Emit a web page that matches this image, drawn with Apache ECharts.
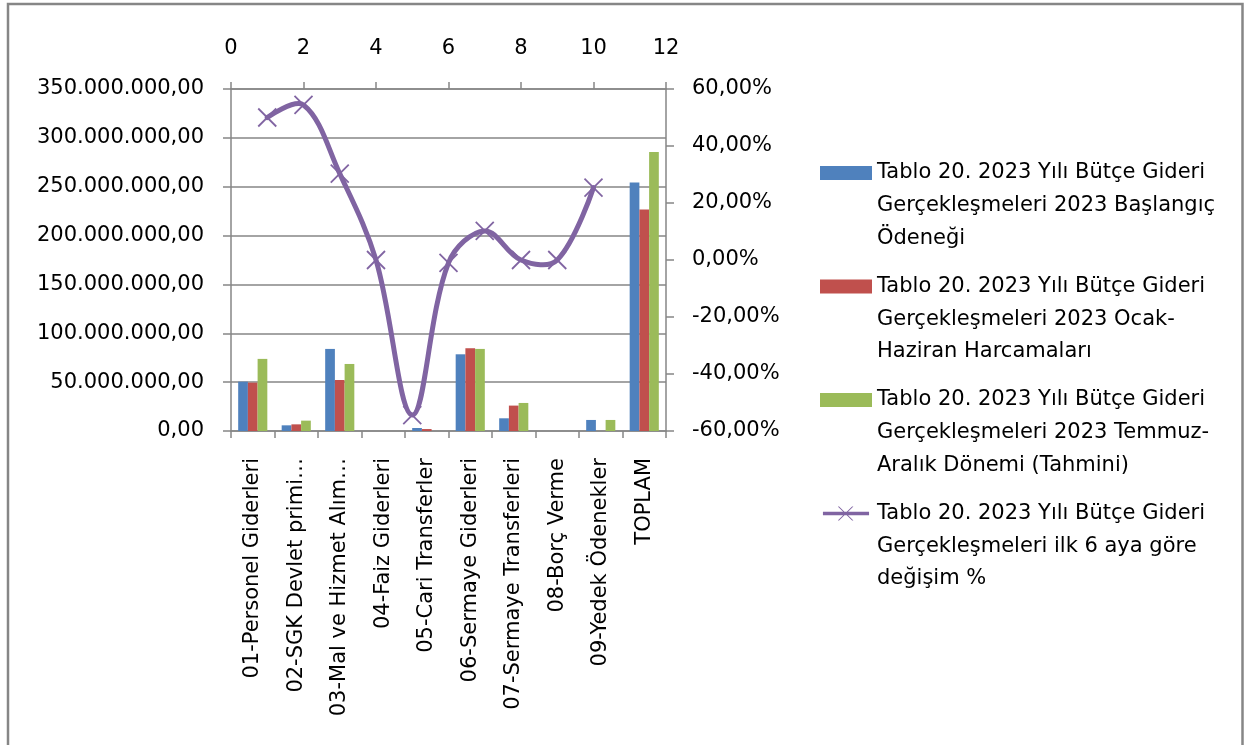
<!DOCTYPE html>
<html>
<head>
<meta charset="utf-8">
<script src="https://cdn.jsdelivr.net/npm/echarts@6/dist/echarts.min.js"></script>
<style>html,body{margin:0;padding:0;background:#fff}#c{width:1245px;height:745px}</style>
</head>
<body>
<div id="c"></div>
<script>
var categories = ['01-Personel Giderleri','02-SGK Devlet primi…','03-Mal ve Hizmet Alım…','04-Faiz Giderleri','05-Cari Transferler','06-Sermaye Giderleri','07-Sermaye Transferleri','08-Borç Verme','09-Yedek Ödenekler','TOPLAM'];
var seriesNames = [
  'Tablo 20. 2023 Yılı Bütçe Gideri\nGerçekleşmeleri 2023 Başlangıç\nÖdeneği',
  'Tablo 20. 2023 Yılı Bütçe Gideri\nGerçekleşmeleri 2023 Ocak-\nHaziran Harcamaları',
  'Tablo 20. 2023 Yılı Bütçe Gideri\nGerçekleşmeleri 2023 Temmuz-\nAralık Dönemi (Tahmini)',
  'Tablo 20. 2023 Yılı Bütçe Gideri\nGerçekleşmeleri ilk 6 aya göre\ndeğişim %'
];
var baslangic = [50.5e6, 5.8e6, 84.0e6, 0, 3.1e6, 78.5e6, 13.0e6, 0, 11.3e6, 254.4e6];
var ocakHaziran = [49.5e6, 6.8e6, 52.2e6, 0, 2.0e6, 84.7e6, 26.0e6, 0, 0, 226.8e6];
var temmuzAralik = [73.8e6, 10.6e6, 68.6e6, 0, 0, 84.0e6, 28.7e6, 0, 11.3e6, 285.5e6];
var lineX = [1, 2, 3, 4, 5, 6, 7, 8, 9, 10];
var degisim = [50.0, 54.4, 30.3, 0, -54.4, -1.0, 10.2, 0, 0, 25.4];

var gray = '#868686';
var purple = '#8064A2';
var font = 'DejaVu Sans';
var fs = 21;

function trNum(v) {
  var s = Math.abs(v).toFixed(2).split('.');
  var ip = s[0].replace(/\B(?=(\d{3})+(?!\d))/g, '.');
  return (v < 0 ? '-' : '') + ip + ',' + s[1];
}

var lineIcon = 'path://M0,6.5h56v4h-56z M18,0H19.6L37,17H35.4Z M35.4,0H37L19.6,17H18Z';

function renderLine(params, api) {
  var p = api.coord([api.value(0), api.value(1)]);
  var r = 9;
  var children = [];
  if (params.dataIndex === 0) {
    var pts = lineX.map(function (x, i) { return api.coord([x, degisim[i]]); });
    children.push({
      type: 'polyline', shape: {points: pts, smooth: 0.36},
      style: {stroke: purple, lineWidth: 5, fill: null, lineJoin: 'round', lineCap: 'round'}
    });
  }
  children.push({type: 'line', shape: {x1: p[0] - r, y1: p[1] - r, x2: p[0] + r, y2: p[1] + r}, style: {stroke: purple, lineWidth: 1.8}});
  children.push({type: 'line', shape: {x1: p[0] + r, y1: p[1] - r, x2: p[0] - r, y2: p[1] + r}, style: {stroke: purple, lineWidth: 1.8}});
  return {type: 'group', children: children};
}

var chart = echarts.init(document.getElementById('c'));
var lh = 32.7;
chart.setOption({
  animation: false,
  textStyle: {fontFamily: font},
  graphic: [{
    type: 'rect', shape: {x: 8, y: 4, width: 1234.5, height: 745}, silent: true,
    style: {fill: 'none', stroke: gray, lineWidth: 2.5}
  }],
  grid: {left: 231, right: 579, top: 89, bottom: 314},
  legend: {
    orient: 'vertical', left: 820, top: 91.25, padding: 0,
    itemWidth: 52, itemHeight: 14, itemGap: -50,
    textStyle: {fontFamily: font, fontSize: fs, color: '#000', lineHeight: lh},
    formatter: function (name) { return '\n\n' + name; },
    data: [
      {name: seriesNames[0], icon: 'rect'},
      {name: seriesNames[1], icon: 'rect'},
      {name: seriesNames[2], icon: 'rect'},
      {name: seriesNames[3], icon: lineIcon}
    ]
  },
  xAxis: [{
    type: 'category', data: categories, position: 'bottom',
    axisLine: {onZero: false, lineStyle: {color: gray, width: 1.5}},
    axisTick: {show: true, interval: 0, length: 7, lineStyle: {color: gray, width: 1.5}},
    axisLabel: {interval: 0, rotate: 90, margin: 27, fontSize: fs, color: '#000', fontFamily: font}
  }, {
    type: 'value', position: 'top', min: 0, max: 12, interval: 2,
    axisLine: {show: true, onZero: false, lineStyle: {color: gray, width: 1.5}},
    axisTick: {show: true, length: 7, lineStyle: {color: gray, width: 1.5}},
    splitLine: {show: false},
    axisLabel: {margin: 30, fontSize: fs, color: '#000', fontFamily: font}
  }],
  yAxis: [{
    type: 'value', min: 0, max: 350e6, interval: 50e6, position: 'left',
    axisLine: {show: true, onZero: false, lineStyle: {color: gray, width: 1.5}},
    axisTick: {show: true, length: 8, lineStyle: {color: gray, width: 1.5}},
    splitLine: {show: true, lineStyle: {color: gray, width: 1.5}},
    axisLabel: {margin: 27, fontSize: fs, color: '#000', fontFamily: font, formatter: function (v) { return trNum(v); }}
  }, {
    type: 'value', min: -60, max: 60, interval: 20, position: 'right',
    axisLine: {show: true, onZero: false, lineStyle: {color: gray, width: 1.5}},
    axisTick: {show: true, length: 8, lineStyle: {color: gray, width: 1.5}},
    splitLine: {show: false},
    axisLabel: {margin: 26, fontSize: fs, color: '#000', fontFamily: font, formatter: function (v) { return trNum(v) + '%'; }}
  }],
  series: [{
    name: seriesNames[0], type: 'bar', data: baslangic, barGap: '0%', barCategoryGap: '33%',
    itemStyle: {color: '#4F81BD'}
  }, {
    name: seriesNames[1], type: 'bar', data: ocakHaziran, barGap: '0%', barCategoryGap: '33%',
    itemStyle: {color: '#C0504D'}
  }, {
    name: seriesNames[2], type: 'bar', data: temmuzAralik, barGap: '0%', barCategoryGap: '33%',
    itemStyle: {color: '#9BBB59'}
  }, {
    name: seriesNames[3], type: 'custom', xAxisIndex: 1, yAxisIndex: 1,
    data: lineX.map(function (x, i) { return [x, degisim[i]]; }),
    encode: {x: 0, y: 1},
    itemStyle: {color: purple},
    renderItem: renderLine, z: 3
  }]
});
</script>
</body>
</html>
